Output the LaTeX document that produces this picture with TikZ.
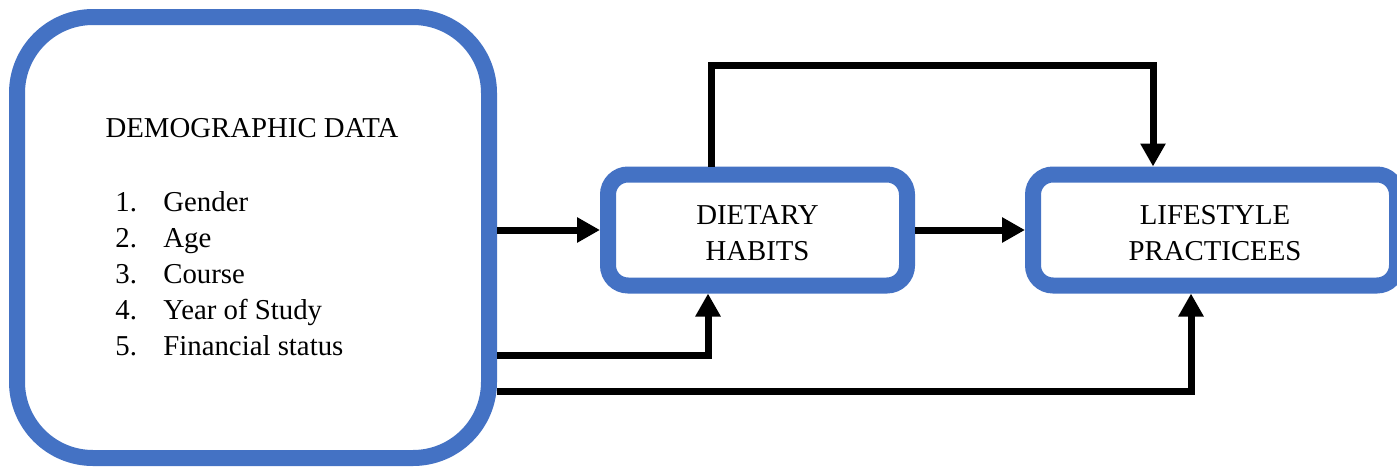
\documentclass[tikz,border=0pt]{standalone}
\usepackage{fontspec}
\setmainfont{Liberation Serif}
\usetikzlibrary{arrows.meta,positioning,calc}
\definecolor{Frame}{HTML}{4472C4}
\definecolor{Ink}{HTML}{000000}
\newcommand\diafont{\fontsize{14.4}{18}\selectfont}
\newcommand\topstrut{\rule{0pt}{12.4pt}}
\tikzset{
  bigbox/.style={draw=Frame,fill=white,line width=8pt,rounded corners=38pt,minimum width=236pt,minimum height=220.5pt},
  stage/.style={draw=Frame,fill=white,line width=8pt,rounded corners=10pt,align=center,inner sep=0pt,font=\diafont},
  txt/.style={font=\diafont,inner sep=0pt},
  flow/.style={-{Triangle[length=11.5pt,width=12pt]},draw=Ink,line width=3.5pt}
}
\begin{document}
\begin{tikzpicture}[x=0.5pt,y=-0.5pt]
  \useasboundingbox (0,0) rectangle (1397,466);
  \node[bigbox] (demo) at (253,237.5) {};
  \node[txt,anchor=base] (demotitle) at (252,137) {DEMOGRAPHIC DATA};
  \node[txt,anchor=base west] (demolist) at (115,211) {\begin{tabular}[t]{@{}p{24pt}@{}l@{}}
    1. & Gender\\
    2. & Age\\
    3. & Course\\
    4. & Year of Study\\
    5. & Financial status
  \end{tabular}};
  \node[stage,minimum width=149.5pt,minimum height=55.5pt] (diet) at (757.5,230) {\topstrut DIETARY\\HABITS};
  \node[stage,minimum width=182pt,minimum height=55.5pt] (life) at (1215,230) {\topstrut LIFESTYLE\\PRACTICEES};
  % turning points of the routed connectors
  \coordinate (topleft) at (711,65);
  \coordinate (topright) at (1153,65);
  \coordinate (lowturn) at (708,355);
  \coordinate (baseturn) at (1191,391);
  \draw[flow] (demo.east |- diet.west) -- (diet.west);
  \draw[flow] (diet.east) -- (life.west);
  \draw[flow] (topleft |- diet.north) -- (topleft) -- (topright) -- (topright |- life.north);
  \draw[flow] (demo.east |- lowturn) -| (lowturn |- diet.south);
  \draw[flow] (demo.east |- baseturn) -| (baseturn |- life.south);
\end{tikzpicture}
\end{document}
